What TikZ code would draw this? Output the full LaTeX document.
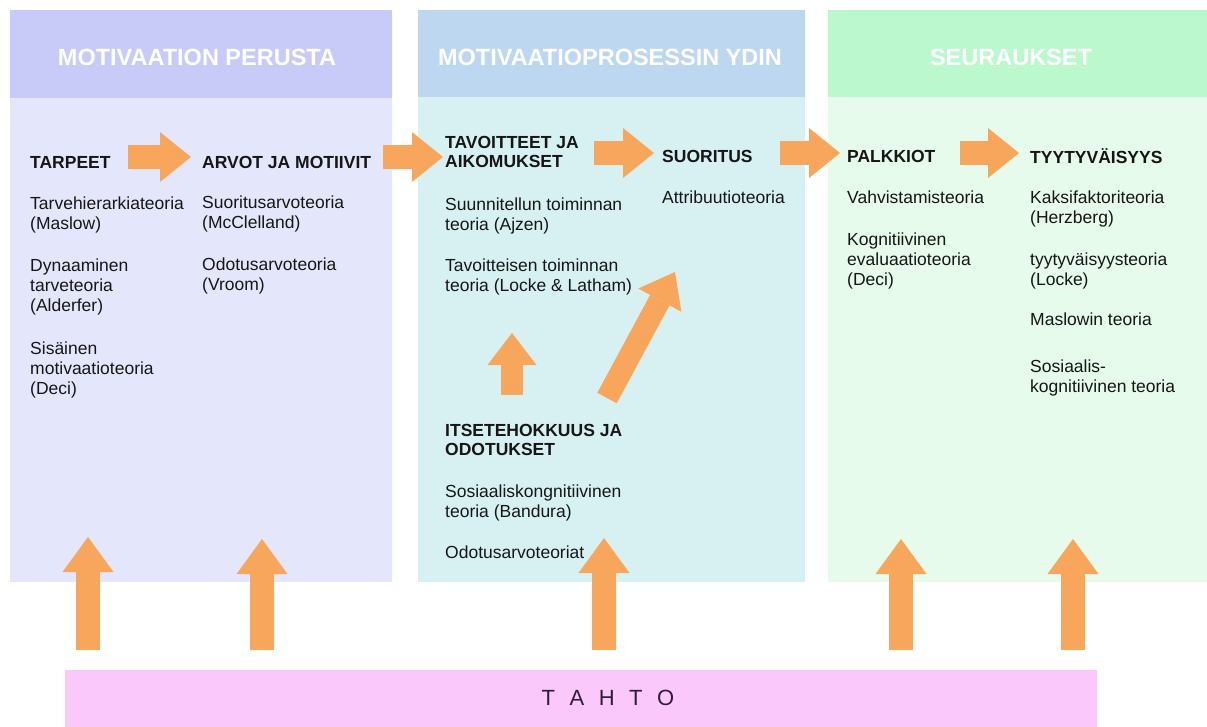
\documentclass[tikz,border=0pt]{standalone}
\usepackage{fontspec}
\setmainfont{Liberation Sans}
\usetikzlibrary{arrows.meta}
\definecolor{pAhead}{HTML}{C8CBF7}
\definecolor{pAbody}{HTML}{E4E7FB}
\definecolor{pBhead}{HTML}{BED7F1}
\definecolor{pBbody}{HTML}{D7F1F3}
\definecolor{pChead}{HTML}{BBF8CE}
\definecolor{pCbody}{HTML}{E6FBEC}
\definecolor{tahtoc}{HTML}{FAC8FB}
\definecolor{arrowc}{HTML}{F8A65B}
\definecolor{txtc}{HTML}{161616}
\definecolor{tahtotxt}{HTML}{2E1E36}
\begin{document}
\begin{tikzpicture}[x=1pt,y=-1pt,
  headtxt/.style={anchor=base, inner sep=0, text=white, font=\fontsize{23.5}{26}\selectfont\bfseries},
  boldtxt/.style={anchor=north west, inner sep=0, align=left, text=txtc, font=\fontsize{17.5}{19.5}\selectfont\bfseries},
  normtxt/.style={anchor=north west, inner sep=0, align=left, text=txtc, font=\fontsize{17.5}{20}\selectfont},
  harrow/.style={draw=arrowc, line width=24pt, -{Triangle[width=50pt,length=31pt,line width=0pt]}},
  varrow/.style={draw=arrowc, line width=24pt, -{Triangle[width=51pt,length=35pt,line width=0pt]}},
  sarrow/.style={draw=arrowc, line width=22pt, -{Triangle[width=49pt,length=32pt,line width=0pt]}}]
\useasboundingbox[fill=white] (0,0) rectangle (1207,727);
% panels
\fill[pAbody] (10,10) rectangle (392,582);
\fill[pAhead] (10,10) rectangle (392,98);
\fill[pBbody] (418,10) rectangle (805,582);
\fill[pBhead] (418,10) rectangle (805,97);
\fill[pCbody] (828,10) rectangle (1207,582);
\fill[pChead] (828,10) rectangle (1207,97);
\node[fill=tahtoc, minimum width=1032pt, minimum height=57pt, inner sep=0, anchor=north west] (tahto) at (65,670) {};
\node[anchor=base, inner sep=0, text=tahtotxt, font=\fontsize{22}{24}\selectfont] (tahtolbl) at (608,705)
  {T\hspace{14.5pt}A\hspace{14.5pt}H\hspace{14.5pt}T\hspace{14.5pt}O};
% headers
\node[headtxt] (h1) at (197,66) {MOTIVAATION PERUSTA};
\node[headtxt] (h2) at (610,66) {MOTIVAATIOPROSESSIN YDIN};
\node[headtxt] (h3) at (1011,66) {SEURAUKSET};
% column 1
\node[boldtxt] (tarpeet) at (30,154.35) {\strut TARPEET};
\node[normtxt] (t1a) at (30,195) {\strut Tarvehierarkiateoria\\(Maslow)};
\node[normtxt] (t1b) at (30,257) {\strut Dynaaminen\\tarveteoria\\(Alderfer)};
\node[normtxt] (t1c) at (30,340) {\strut Sisäinen\\motivaatioteoria\\(Deci)};
% column 2
\node[boldtxt] (arvot) at (202,154.35) {\strut ARVOT JA MOTIIVIT};
\node[normtxt] (t2a) at (202,194) {\strut Suoritusarvoteoria\\(McClelland)};
\node[normtxt] (t2b) at (202,256) {\strut Odotusarvoteoria\\(Vroom)};
% column 3
\node[boldtxt] (tavoitteet) at (445,134.35) {\strut TAVOITTEET JA\\AIKOMUKSET};
\node[normtxt] (t3a) at (445,196) {\strut Suunnitellun toiminnan\\teoria (Ajzen)};
\node[normtxt] (t3b) at (445,257) {\strut Tavoitteisen toiminnan\\teoria (Locke \& Latham)};
\node[boldtxt] (itse) at (445,422.35) {\strut ITSETEHOKKUUS JA\\ODOTUKSET};
\node[normtxt] (t5a) at (445,483) {\strut Sosiaaliskongnitiivinen\\teoria (Bandura)};
\node[normtxt] (t5b) at (445,544) {\strut Odotusarvoteoriat};
% column 4
\node[boldtxt] (suoritus) at (662,148.35) {\strut SUORITUS};
\node[normtxt] (t4a) at (662,189) {\strut Attribuutioteoria};
% column 5
\node[boldtxt] (palkkiot) at (847,148.35) {\strut PALKKIOT};
\node[normtxt] (t6a) at (847,189) {\strut Vahvistamisteoria};
\node[normtxt] (t6b) at (847,231) {\strut Kognitiivinen\\evaluaatioteoria\\(Deci)};
% column 6
\node[boldtxt] (tyyt) at (1030,148.35) {\strut TYYTYVÄISYYS};
\node[normtxt] (t7a) at (1030,189) {\strut Kaksifaktoriteoria\\(Herzberg)};
\node[normtxt] (t7b) at (1030,251) {\strut tyytyväisyysteoria\\(Locke)};
\node[normtxt] (t7c) at (1030,311) {\strut Maslowin teoria};
\node[normtxt] (t7d) at (1030,358) {\strut Sosiaalis-\\kognitiivinen teoria};
% arrow end points
\coordinate (a1s) at (128,157); \coordinate (a1e) at (191,157);
\coordinate (a2s) at (383,157); \coordinate (a2e) at (443,157);
\coordinate (a3s) at (594,153); \coordinate (a3e) at (654,153);
\coordinate (a4s) at (780,153); \coordinate (a4e) at (840,153);
\coordinate (a5s) at (960,153); \coordinate (a5e) at (1019,153);
\coordinate (v1s) at (88,650);   \coordinate (v1e) at (88,537);
\coordinate (v2s) at (262,650);  \coordinate (v2e) at (262,539);
\coordinate (v3s) at (604,650);  \coordinate (v3e) at (604,538);
\coordinate (v4s) at (901,650);  \coordinate (v4e) at (901,539);
\coordinate (v5s) at (1073,650); \coordinate (v5e) at (1073,539);
\coordinate (s1s) at (512,395);  \coordinate (s1e) at (512,333);
\coordinate (d1s) at (607,398);  \coordinate (d1e) at (675,272);
% arrows
\draw[harrow] (a1s) -- (a1e);
\draw[harrow] (a2s) -- (a2e);
\draw[harrow] (a3s) -- (a3e);
\draw[harrow] (a4s) -- (a4e);
\draw[harrow] (a5s) -- (a5e);
\draw[varrow] (v1s) -- (v1e);
\draw[varrow] (v2s) -- (v2e);
\draw[varrow] (v3s) -- (v3e);
\draw[varrow] (v4s) -- (v4e);
\draw[varrow] (v5s) -- (v5e);
\draw[sarrow] (s1s) -- (s1e);
\draw[sarrow] (d1s) -- (d1e);
\end{tikzpicture}
\end{document}
